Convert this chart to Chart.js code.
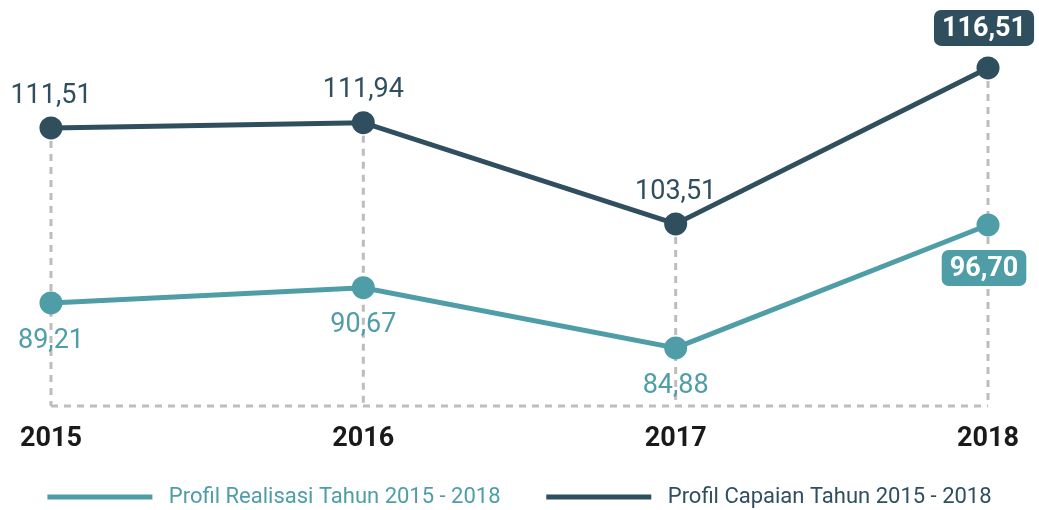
<!DOCTYPE html>
<html>
<head>
<meta charset="utf-8">
<script src="https://cdn.jsdelivr.net/npm/chart.js@4"></script>
<style>
  html, body { margin: 0; padding: 0; background: #fff; }
  #wrap { width: 1039px; height: 510px; }
</style>
</head>
<body>
<div id="wrap"><canvas id="chart"></canvas></div>
<script>
const years = ['2015', '2016', '2017', '2018'];
const capaian = [111.51, 111.94, 103.51, 116.51];
const realisasi = [89.21, 90.67, 84.88, 96.70];
const capaianLabel = 'Profil Capaian Tahun 2015 - 2018';
const realisasiLabel = 'Profil Realisasi Tahun 2015 - 2018';

const DARK = '#2f4f5f';
const TEAL = '#4f9ea7';

const fmt = v => v.toFixed(2).replace('.', ',');

function roundRect(ctx, x, y, w, h, r) {
  ctx.beginPath();
  ctx.moveTo(x + r, y);
  ctx.arcTo(x + w, y, x + w, y + h, r);
  ctx.arcTo(x + w, y + h, x, y + h, r);
  ctx.arcTo(x, y + h, x, y, r);
  ctx.arcTo(x, y, x + w, y, r);
  ctx.closePath();
}

// dashed drop lines from the upper point down to the axis, plus the dashed base line
const dropLines = {
  id: 'dropLines',
  beforeDatasetsDraw(chart) {
    const ctx = chart.ctx;
    const meta = chart.getDatasetMeta(1);
    const bottom = chart.chartArea.bottom;
    const pts = meta.data;
    ctx.save();
    ctx.strokeStyle = '#bdbdbd';
    ctx.lineWidth = 3;
    ctx.setLineDash([7, 6]);
    pts.forEach(p => {
      ctx.beginPath();
      ctx.moveTo(p.x, p.y);
      ctx.lineTo(p.x, bottom);
      ctx.stroke();
    });
    ctx.beginPath();
    ctx.moveTo(pts[0].x, bottom);
    ctx.lineTo(pts[pts.length - 1].x, bottom);
    ctx.stroke();
    ctx.restore();
  }
};

// value labels, last one in a rounded box
const valueLabels = {
  id: 'valueLabels',
  afterDatasetsDraw(chart) {
    const ctx = chart.ctx;
    ctx.save();
    ctx.textAlign = 'center';
    ctx.textBaseline = 'middle';
    chart.data.datasets.forEach((ds, di) => {
      const meta = chart.getDatasetMeta(di);
      const above = di === 1;
      meta.data.forEach((p, i) => {
        const text = fmt(ds.data[i]);
        const last = i === ds.data.length - 1;
        if (last) {
          const cx = p.x - 4;
          const cy = above ? p.y - 40 : p.y + 43;
          ctx.font = 'bold 27px Roboto';
          const w = ctx.measureText(text).width + 16;
          ctx.fillStyle = ds.borderColor;
          roundRect(ctx, cx - w / 2, cy - 18, w, 36, 7);
          ctx.fill();
          ctx.fillStyle = '#fff';
          ctx.fillText(text, cx, cy + 1);
        } else {
          const cy = above ? p.y - 32 : p.y + 38;
          ctx.font = '27px Roboto';
          ctx.fillStyle = ds.borderColor;
          ctx.fillText(text, p.x, cy);
        }
      });
    });
    ctx.restore();
  }
};

new Chart(document.getElementById('chart'), {
  type: 'line',
  data: {
    labels: years,
    datasets: [{
      label: realisasiLabel,
      data: realisasi,
      yAxisID: 'y1',
      borderColor: TEAL,
      backgroundColor: TEAL,
      borderWidth: 5,
      pointRadius: 9,
      pointHoverRadius: 9,
      lineTension: 0
    }, {
      label: capaianLabel,
      data: capaian,
      yAxisID: 'y',
      borderColor: DARK,
      backgroundColor: DARK,
      borderWidth: 5,
      pointRadius: 9,
      pointHoverRadius: 9,
      lineTension: 0
    }]
  },
  options: {
    responsive: true,
    maintainAspectRatio: false,
    animation: false,
    layout: { padding: { top: 20, left: 0, right: 0, bottom: 0 } },
    scales: {
      x: {
        offset: false,
        grid: { display: false, drawTicks: false },
        border: { display: false },
        ticks: {
          color: '#1a1a1a',
          font: { family: 'Roboto', size: 27, weight: 'bold', lineHeight: 1 },
          padding: 20,
          maxRotation: 0,
          autoSkip: false
        }
      },
      y: { display: false, min: 88.34, max: 120.5 },
      y1: { display: false, min: 79.3, max: 116.4 }
    },
    plugins: {
      tooltip: { enabled: false },
      legend: {
        position: 'bottom',
        maxHeight: 37,
        labels: {
          boxWidth: 105,
          boxHeight: 5,
          padding: 13,
          font: { family: 'Roboto', size: 22 },
          generateLabels(chart) {
            return chart.data.datasets.map((ds, i) => ({
              text: ' ' + ds.label + (i === 0 ? '      ' : ''),
              fillStyle: ds.borderColor,
              strokeStyle: ds.borderColor,
              lineWidth: 0,
              fontColor: ds.borderColor,
              datasetIndex: i,
              hidden: false
            }));
          }
        }
      }
    }
  },
  plugins: [dropLines, valueLabels]
});
</script>
</body>
</html>
